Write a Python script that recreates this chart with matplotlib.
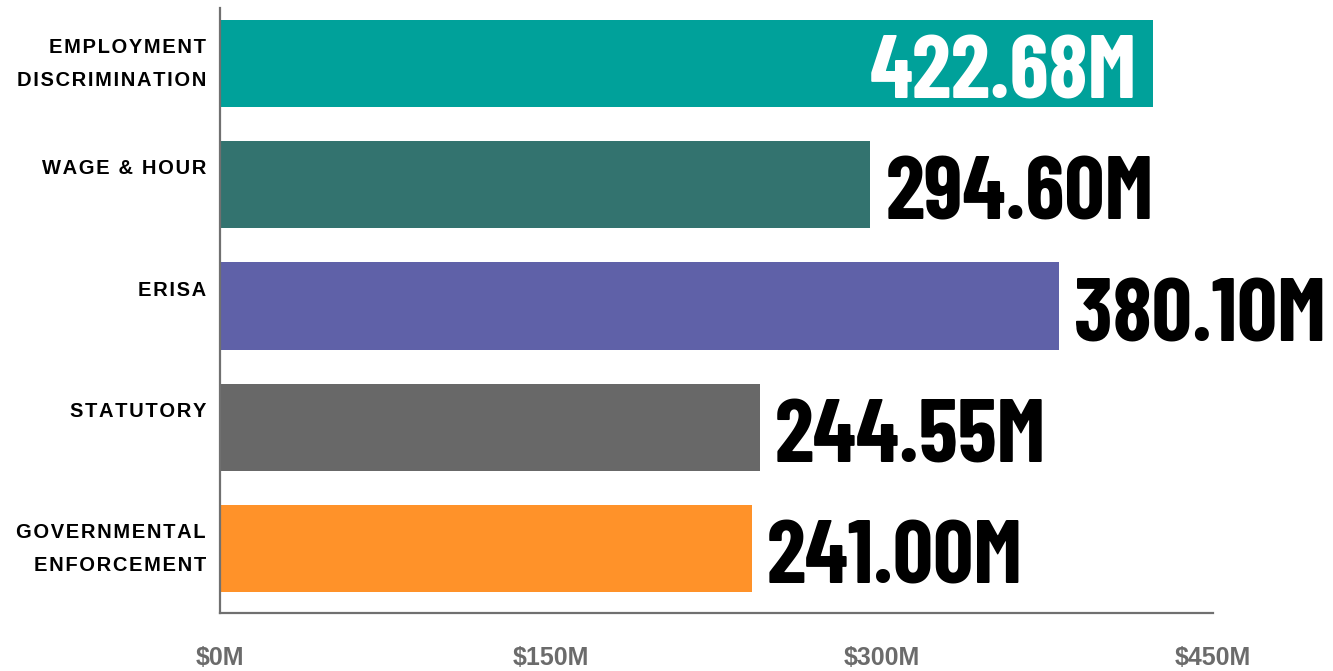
import matplotlib
matplotlib.use("Agg")
import matplotlib.pyplot as plt
from matplotlib.transforms import ScaledTranslation

# --- data ---
categories = ["EMPLOYMENT\nDISCRIMINATION", "WAGE & HOUR", "ERISA",
              "STATUTORY", "GOVERNMENTAL\nENFORCEMENT"]
values = [422.68, 294.60, 380.10, 244.55, 241.00]          # $M
bar_colors = ["#00A19A", "#33736F", "#5F61A8", "#686868", "#FF9229"]
xticks = [0, 150, 300, 450]
xtick_labels = ["$0M", "$150M", "$300M", "$450M"]
inside = [True, False, False, False, False]                 # label inside bar?

NUM_FONT = ["Barlow Condensed", "Roboto Condensed", "DejaVu Sans"]
LBL_FONT = ["Liberation Sans", "DejaVu Sans"]


def spaced(s):
    # fake letter tracking with hair spaces
    return "\n".join("\u200a".join(line) for line in s.split("\n"))


fig = plt.figure(figsize=(13.33, 6.71), dpi=100)
ax = fig.add_axes([0.165, 0.0864, 0.745, 0.9016])

ypos = list(range(len(categories)))
ax.barh(ypos, values, height=0.72, color=bar_colors, zorder=2)

ax.set_xlim(0, 450)
ax.set_ylim(4.532, -0.458)

# --- value labels ---
for y, v, c in zip(ypos, values, inside):
    lbl = f"{v:.2f}M"
    if c:
        ax.text(v - 7, y + 0.29, lbl, ha="right", va="baseline", color="white",
                fontsize=64, fontweight="bold", family=NUM_FONT)
    else:
        ax.text(v + 7, y + 0.29, lbl, ha="left", va="baseline", color="black",
                fontsize=64, fontweight="bold", family=NUM_FONT)

# --- category labels: hang from top of first line, a bit above bar centre ---
ax.set_yticks(ypos)
ax.set_yticklabels([])
lbl_tr = ax.get_yaxis_transform() + ScaledTranslation(-0.14, 0.255, fig.dpi_scale_trans)
for y, c in zip(ypos, categories):
    ax.text(0, y, spaced(c), transform=lbl_tr, ha="right", va="top",
            multialignment="right", fontsize=14.5, fontweight="bold",
            family=LBL_FONT, linespacing=1.9)

ax.set_xticks(xticks)
ax.set_xticklabels(xtick_labels, fontsize=18, fontweight="bold",
                   family=LBL_FONT, color="#6B6B6B")
ax.tick_params(axis="y", length=0)
ax.tick_params(axis="x", length=0, pad=24)

for s in ["top", "right"]:
    ax.spines[s].set_visible(False)
for s in ["left", "bottom"]:
    ax.spines[s].set_color("#707070")
    ax.spines[s].set_linewidth(1.6)

fig.savefig("out.png", dpi=100)
